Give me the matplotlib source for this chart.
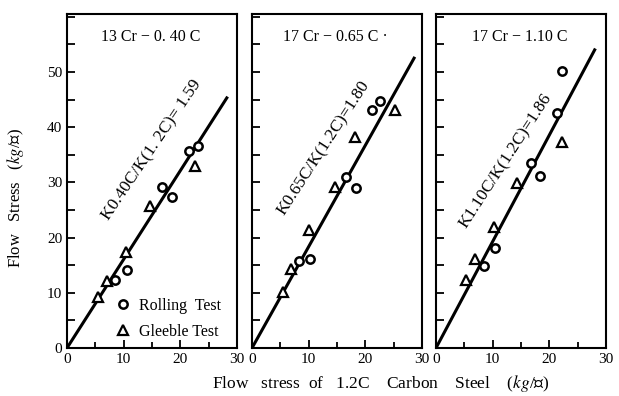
import numpy as np
import matplotlib
matplotlib.use('Agg')
import matplotlib.pyplot as plt
from matplotlib.ticker import MultipleLocator

plt.rcParams['font.family'] = ['Liberation Serif', 'Noto Sans CJK JP', 'DejaVu Sans']
plt.rcParams['mathtext.fontset'] = 'stix'

titles = ['13 Cr − 0. 40 C', '17 Cr − 0.65 C ·', '17 Cr − 1.10 C']
ratio_labels = ['K0.40C/K(1. 2C)= 1.59', 'K0.65C/K(1.2C)=1.80', 'K1.10C/K(1.2C)=1.86']

# rolling test (circles)
roll_x = [[8.5, 10.5, 16.8, 18.6, 21.6, 23.2],
          [8.3, 10.3, 16.6, 18.3, 21.1, 22.6],
          [8.5, 10.4, 16.8, 18.4, 21.3, 22.3]]
roll_y = [[12.3, 14.1, 29.2, 27.4, 35.7, 36.5],
          [15.8, 16.2, 31.0, 29.0, 43.2, 44.8],
          [14.9, 18.2, 33.5, 31.2, 42.6, 50.1]]
# gleeble test (triangles)
glee_x = [[5.4, 7.0, 10.4, 14.6, 22.6],
          [5.5, 6.8, 10.1, 14.6, 18.1, 25.2],
          [5.3, 6.8, 10.3, 14.3, 22.3]]
glee_y = [[9.3, 12.1, 17.3, 25.8, 33.0],
          [10.2, 14.4, 21.4, 29.2, 38.3, 43.1],
          [12.3, 16.1, 22.0, 29.8, 37.4]]
# fitted lines, from origin to end point
line_end_x = [28.2, 28.6, 28.0]
line_end_y = [45.3, 52.5, 54.0]

# label placement (data coords) and angle
lab_x = [15.0, 12.6, 12.4]
lab_y = [35.8, 36.2, 33.9]
lab_rot = [56, 57, 57]

fig = plt.figure(figsize=(6.19, 3.96), dpi=100)
lefts = [67 / 619, 252 / 619, 436 / 619]
axes = []
for i in range(3):
    ax = fig.add_axes([lefts[i], 48 / 396, 170 / 619, 334 / 396])
    axes.append(ax)
    ax.plot([0, line_end_x[i]], [0, line_end_y[i]], color='black', lw=2.2, zorder=2)
    ax.plot(roll_x[i], roll_y[i], 'o', ms=6, mfc='white', mec='black', mew=1.8,
            ls='none', zorder=3, label='Rolling  Test')
    ax.plot(glee_x[i], glee_y[i], '^', ms=6.5, mfc='white', mec='black', mew=1.6,
            ls='none', zorder=3, label='Gleeble Test')
    ax.text(lab_x[i], lab_y[i], ratio_labels[i], rotation=lab_rot[i], fontsize=12.5,
            ha='center', va='center', rotation_mode='anchor')
    ax.text(0.49, 0.955, titles[i], transform=ax.transAxes, fontsize=11.5,
            ha='center', va='top')
    ax.set_xlim(0, 30)
    ax.set_ylim(0, 60.5)
    ax.xaxis.set_major_locator(MultipleLocator(10))
    ax.xaxis.set_minor_locator(MultipleLocator(5))
    ax.yaxis.set_major_locator(MultipleLocator(10))
    ax.yaxis.set_minor_locator(MultipleLocator(5))
    ax.tick_params(which='both', direction='in', width=1.3, labelsize=11)
    ax.tick_params(axis='x', which='major', length=6)
    ax.tick_params(axis='x', which='minor', length=4)
    ax.tick_params(axis='y', which='both', length=6)
    for s in ax.spines.values():
        s.set_linewidth(1.5)
    ax.set_yticks([0, 10, 20, 30, 40, 50])
    if i > 0:
        ax.tick_params(axis='y', labelleft=False)

axes[0].legend(loc='lower left', bbox_to_anchor=(0.2, -0.018), frameon=False,
               fontsize=11.5, handlelength=1.0, handletextpad=0.5, labelspacing=0.6)
axes[0].set_ylabel('Flow   Stress   ($\\it{kg}$/㎟)', fontsize=12)
axes[0].yaxis.set_label_coords(-0.24, 0.45)
fig.text(381 / 619, 1 - 383 / 396,
         'Flow   stress  of   1.2C    Carbon    Steel    ($\\it{kg}$/㎟)',
         fontsize=12.5, ha='center', va='center')

plt.savefig('out.png', dpi=100)
